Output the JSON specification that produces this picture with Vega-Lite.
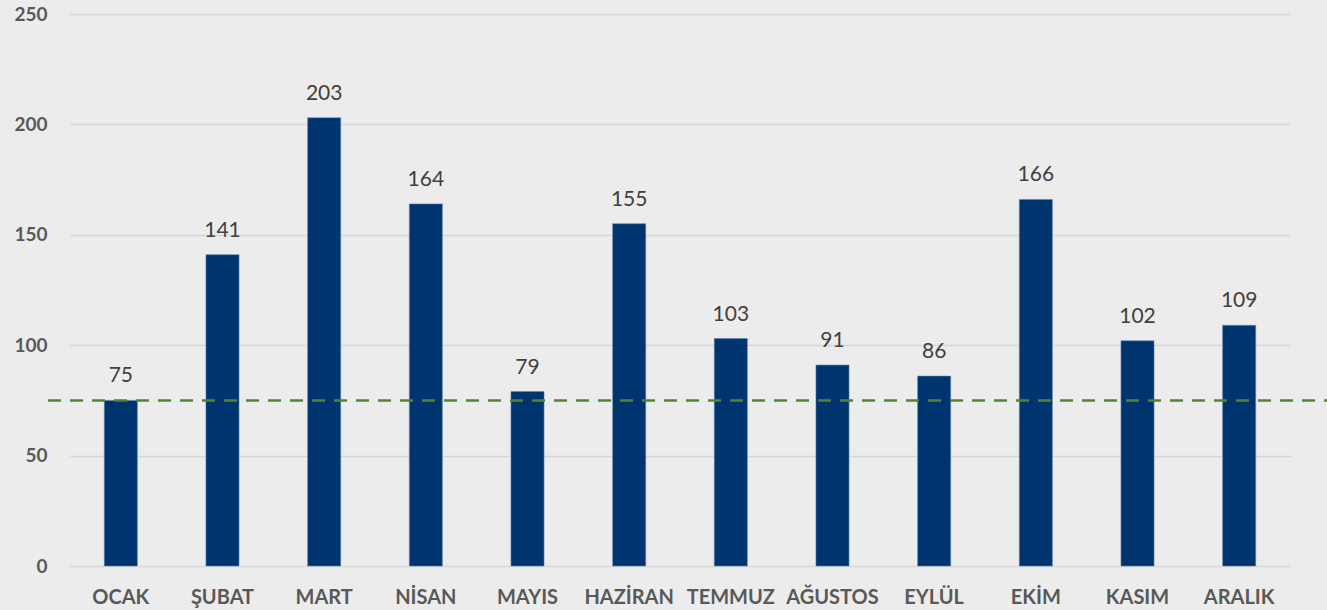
{
  "$schema": "https://vega.github.io/schema/vega-lite/v6.json",
  "width": 1220,
  "height": 552,
  "autosize": "none",
  "padding": {"left": 70, "top": 14, "right": 37, "bottom": 44},
  "background": "#ececec",
  "config": {"view": {"stroke": null}, "font": "Lato"},
  "datasets": {
    "bars": [
      {"month": "OCAK", "value": 75},
      {"month": "ŞUBAT", "value": 141},
      {"month": "MART", "value": 203},
      {"month": "NİSAN", "value": 164},
      {"month": "MAYIS", "value": 79},
      {"month": "HAZİRAN", "value": 155},
      {"month": "TEMMUZ", "value": 103},
      {"month": "AĞUSTOS", "value": 91},
      {"month": "EYLÜL", "value": 86},
      {"month": "EKİM", "value": 166},
      {"month": "KASIM", "value": 102},
      {"month": "ARALIK", "value": 109}
    ],
    "ref": [{"start": -0.018, "end": 1.031, "target": 75}]
  },
  "layer": [
    {
      "data": {"name": "bars"},
      "layer": [
        {
          "mark": {"type": "bar", "color": "#00346e", "stroke": "#5b7fae", "strokeWidth": 0.6},
          "encoding": {
            "x": {
              "field": "month", "type": "nominal", "sort": null,
              "scale": {"paddingInner": 0.675, "paddingOuter": 0.3375},
              "axis": {"title": null, "labelAngle": 0, "labelFontWeight": "bold", "labelFontSize": 20, "labelColor": "#595959", "ticks": false, "domain": false, "labelPadding": 21}
            },
            "y": {
              "field": "value", "type": "quantitative",
              "scale": {"domain": [0, 250], "nice": false},
              "axis": {"title": null, "values": [0, 50, 100, 150, 200, 250], "labelFontWeight": "bold", "labelFontSize": 19, "labelColor": "#595959", "ticks": false, "domain": false, "labelPadding": 23, "gridColor": "#d6d6d6", "gridWidth": 1.5}
            }
          }
        },
        {
          "mark": {"type": "text", "baseline": "bottom", "dy": -14, "fontSize": 21, "color": "#404040"},
          "encoding": {
            "x": {"field": "month", "type": "nominal", "sort": null},
            "y": {"field": "value", "type": "quantitative"},
            "text": {"field": "value", "type": "quantitative"}
          }
        }
      ]
    },
    {
      "data": {"name": "ref"},
      "mark": {"type": "rule", "color": "#548235", "strokeWidth": 2.5, "strokeDash": [13, 9]},
      "encoding": {
        "x": {"field": "start", "type": "quantitative", "scale": {"domain": [0, 1]}, "axis": null},
        "x2": {"field": "end"},
        "y": {"field": "target", "type": "quantitative", "scale": {"domain": [0, 250], "nice": false}}
      }
    }
  ],
  "resolve": {"scale": {"x": "independent"}}
}
